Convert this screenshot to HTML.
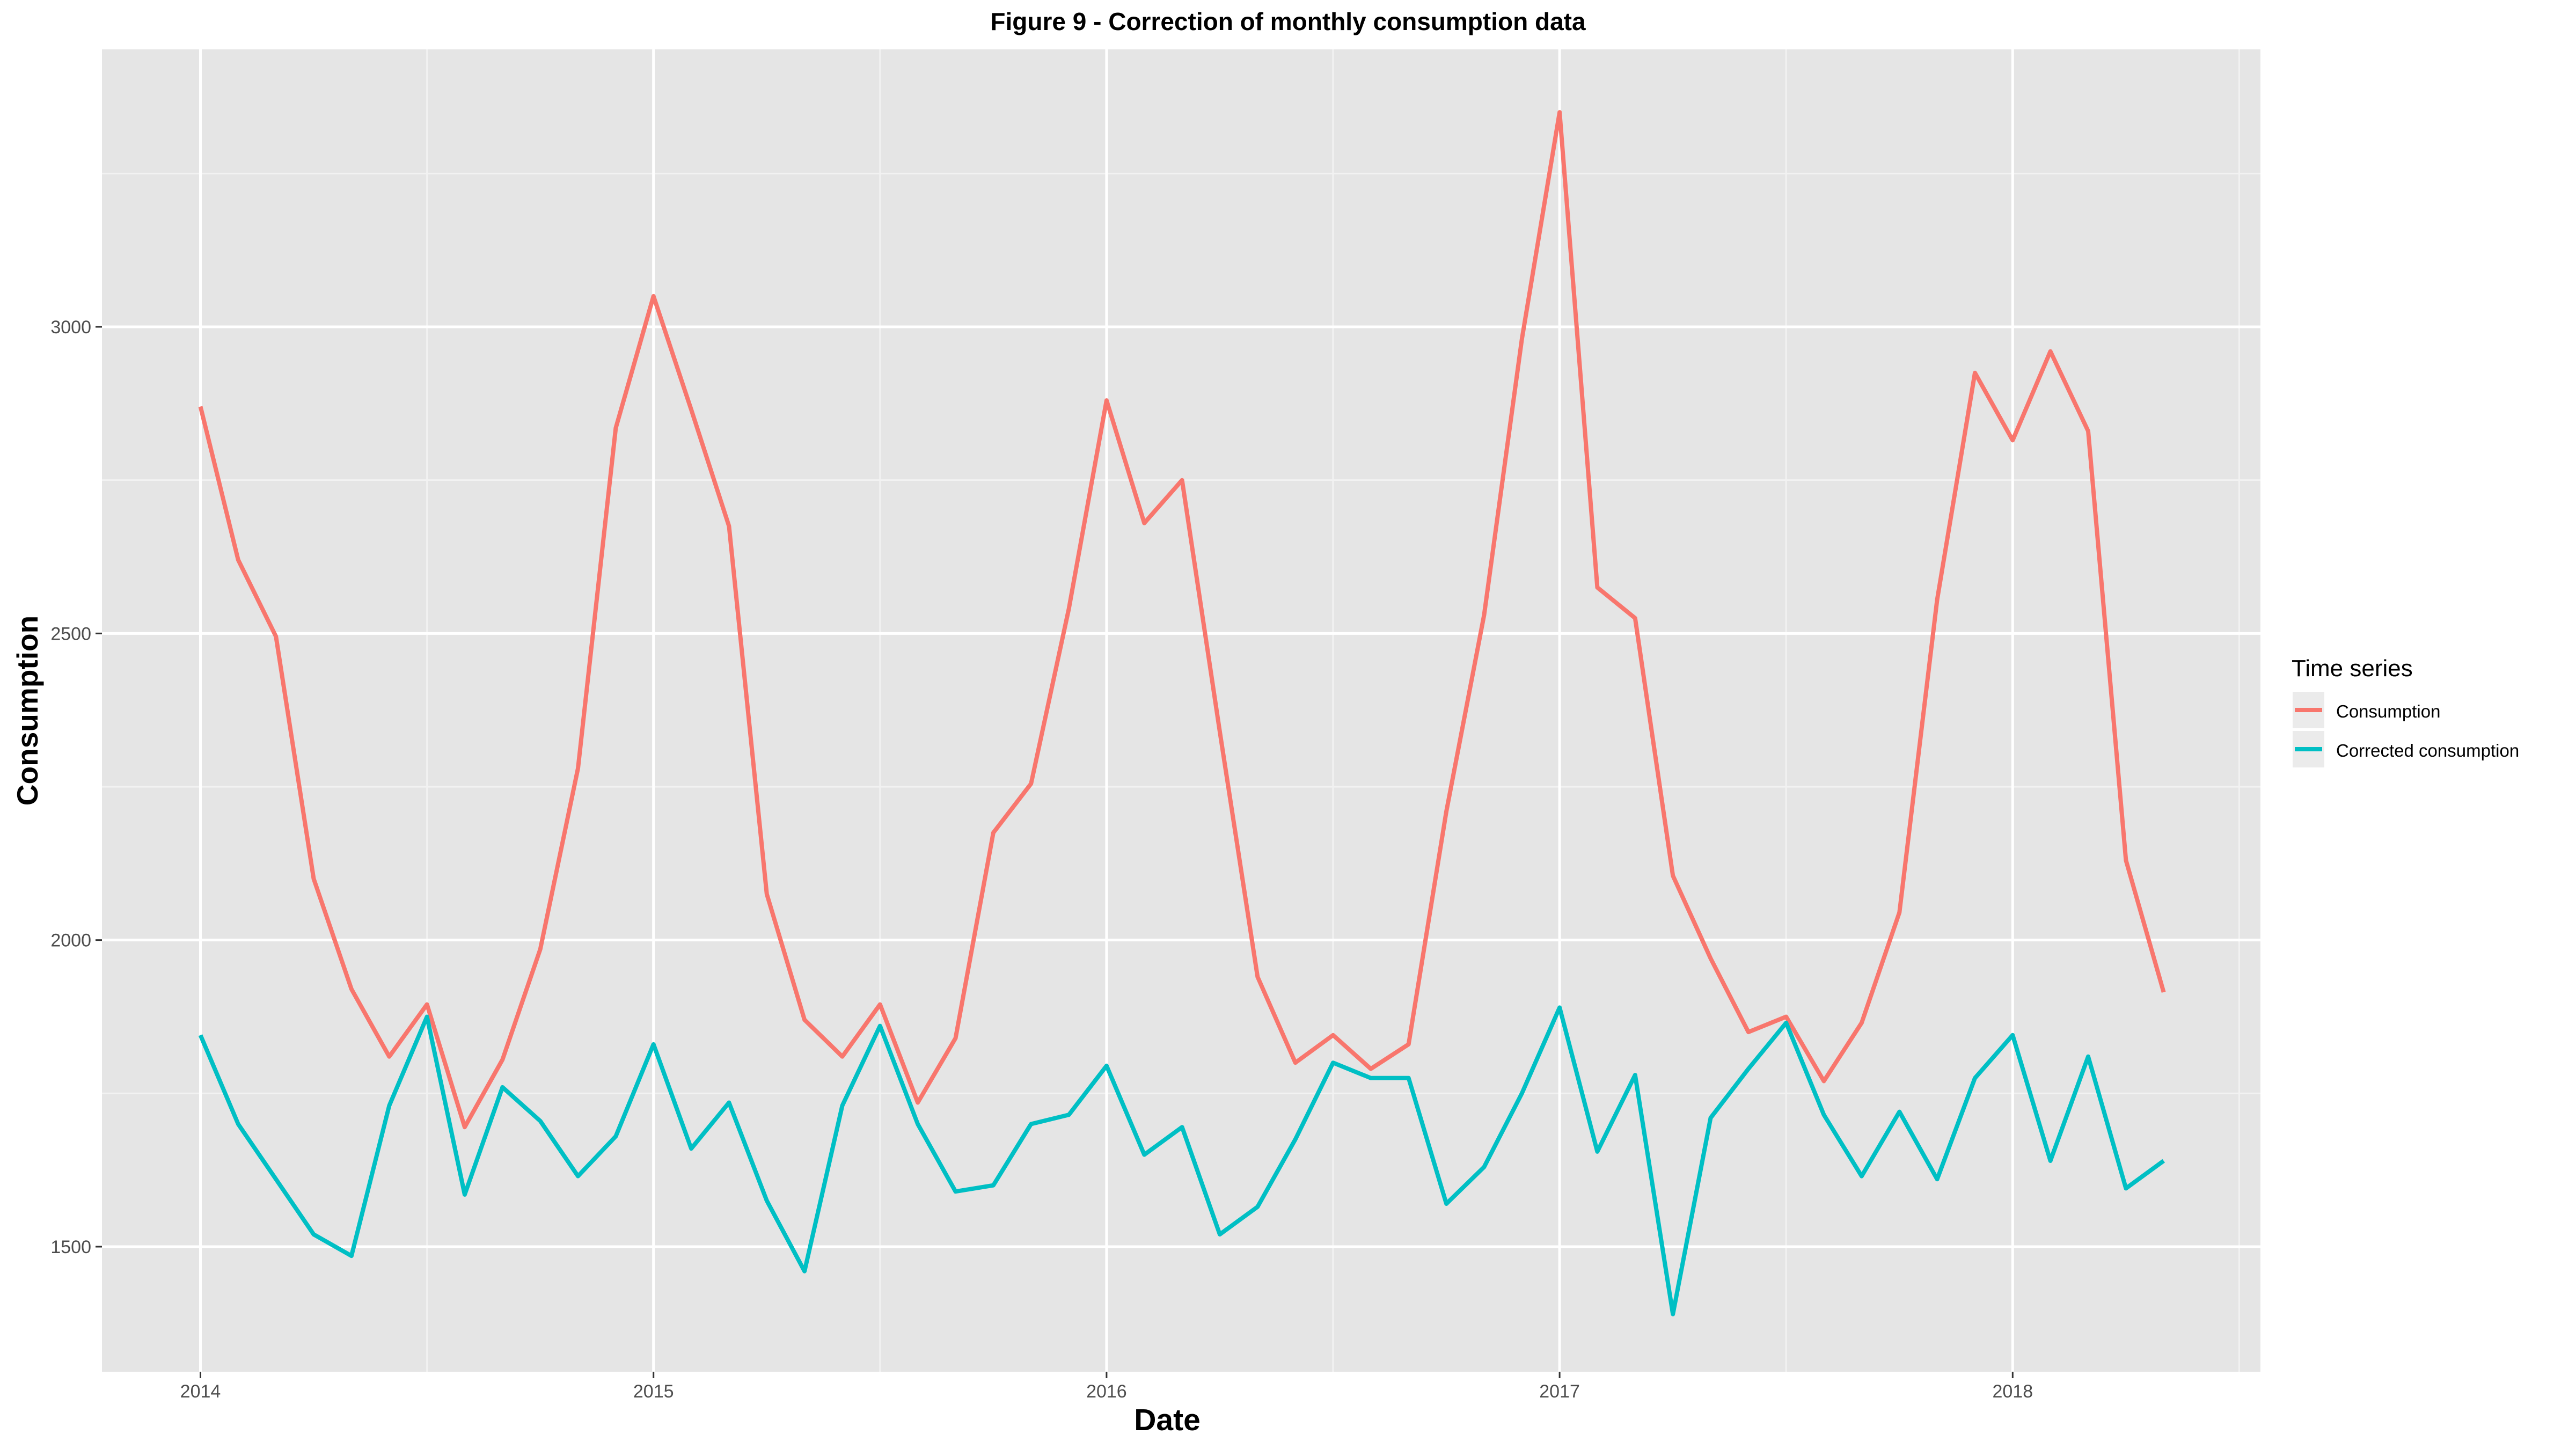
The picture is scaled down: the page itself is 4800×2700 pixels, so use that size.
<!DOCTYPE html>
<html><head><meta charset="utf-8"><style>
html,body{margin:0;padding:0;background:#fff}
svg{display:block;font-family:"Liberation Sans",Arial,sans-serif}
</style></head><body>
<svg id="chart" width="4800" height="2700" viewBox="0 0 4800 2700" xmlns="http://www.w3.org/2000/svg">
<rect x="0" y="0" width="4800" height="2700" fill="#fff"/>
<rect x="190" y="92" width="4022" height="2464" fill="#e5e5e5"/>
<g id="grid"></g>
<g id="series"></g>
<g id="ticks"></g>
<text x="2400" y="56" text-anchor="middle" font-size="46" font-weight="bold">Figure 9 - Correction of monthly consumption data</text>
<text x="2175" y="2665" text-anchor="middle" font-size="57" font-weight="bold">Date</text>
<text transform="translate(70,1324) rotate(-90)" text-anchor="middle" font-size="55" font-weight="bold">Consumption</text>
<g>
<text x="4270" y="1260" font-size="44">Time series</text>
<g>
<rect x="4272" y="1289" width="59" height="68" fill="#ebebeb"/>
<line x1="4276" y1="1323" x2="4327" y2="1323" stroke="#F8766D" stroke-width="8"/>
<text x="4353" y="1337" font-size="33">Consumption</text>
</g>
<g>
<rect x="4272" y="1362" width="59" height="68" fill="#ebebeb"/>
<line x1="4276" y1="1396" x2="4327" y2="1396" stroke="#00BFC4" stroke-width="8"/>
<text x="4353" y="1410" font-size="33">Corrected consumption</text>
</g>
</g>
</svg>
<script>
const consumption = [2870,2620,2495,2100,1920,1810,1895,1695,1805,1985,2280,2835,
3050,2865,2675,2075,1870,1810,1895,1735,1840,2175,2255,2540,
2880,2680,2750,2340,1940,1800,1845,1790,1830,2210,2530,2980,
3350,2575,2525,2105,1970,1850,1875,1770,1865,2045,2555,2925,
2815,2960,2830,2130,1915];
const corrected = [1845,1700,1610,1520,1485,1730,1875,1585,1760,1705,1615,1680,
1830,1660,1735,1575,1460,1730,1860,1700,1590,1600,1700,1715,
1795,1650,1695,1520,1565,1675,1800,1775,1775,1570,1630,1750,
1890,1655,1780,1390,1710,1790,1865,1715,1615,1720,1610,1775,
1845,1640,1810,1595,1640];
const yTicks = [1500,2000,2500,3000];
const xTicks = [2014,2015,2016,2017,2018];
const startYear = 2014;

const NS = "http://www.w3.org/2000/svg";
function xs(t){ return 373.5 + (t-2014)*844.2; }
function ys(v){ return 2323 - (v-1500)*(1714/1500); }
function mk(tag, attrs, parent){ const e=document.createElementNS(NS,tag); for(const k in attrs) e.setAttribute(k,attrs[k]); parent.appendChild(e); return e; }
const grid=document.getElementById('grid'), ticks=document.getElementById('ticks'), series=document.getElementById('series');
for(let i=0;i<yTicks.length;i++){
  const v=yTicks[i]+250;
  const l=mk('line',{x1:190,x2:4212,y1:ys(v),y2:ys(v),stroke:'#f2f2f2','stroke-width':3},grid);
  
  
}
for(let i=0;i<xTicks.length;i++){
  const t=xTicks[i]+0.5;
  const l=mk('line',{x1:xs(t),x2:xs(t),y1:92,y2:2556,stroke:'#f2f2f2','stroke-width':3},grid);
  
  
}
yTicks.forEach(v=>{
  const l=mk('line',{x1:190,x2:4212,y1:ys(v),y2:ys(v),stroke:'#fff','stroke-width':5},grid);
  
  
  const tk=mk('line',{x1:178,x2:190,y1:ys(v),y2:ys(v),stroke:'#333','stroke-width':3},ticks);
  
  
  const tx=mk('text',{x:170,y:ys(v)+12,'text-anchor':'end','font-size':34,fill:'#4d4d4d'},ticks);
  tx.textContent=v;
  
  
});
xTicks.forEach(t=>{
  const l=mk('line',{x1:xs(t),x2:xs(t),y1:92,y2:2556,stroke:'#fff','stroke-width':5},grid);
  
  
  const tk=mk('line',{x1:xs(t),x2:xs(t),y1:2556,y2:2568,stroke:'#333','stroke-width':3},ticks);
  
  
  const tx=mk('text',{x:xs(t),y:2604,'text-anchor':'middle','font-size':34,fill:'#4d4d4d'},ticks);
  tx.textContent=t;
  
  
});
function drawLine(data,color,name){
  const pts=data.map((v,i)=>xs(startYear+i/12).toFixed(1)+','+ys(v).toFixed(1)).join(' ');
  const p=mk('polyline',{points:pts,fill:'none',stroke:color,'stroke-width':8,'stroke-linejoin':'round'},series);
  
  
}
drawLine(consumption,'#F8766D','consumption-line');
drawLine(corrected,'#00BFC4','corrected-consumption-line');
</script>
</body></html>
